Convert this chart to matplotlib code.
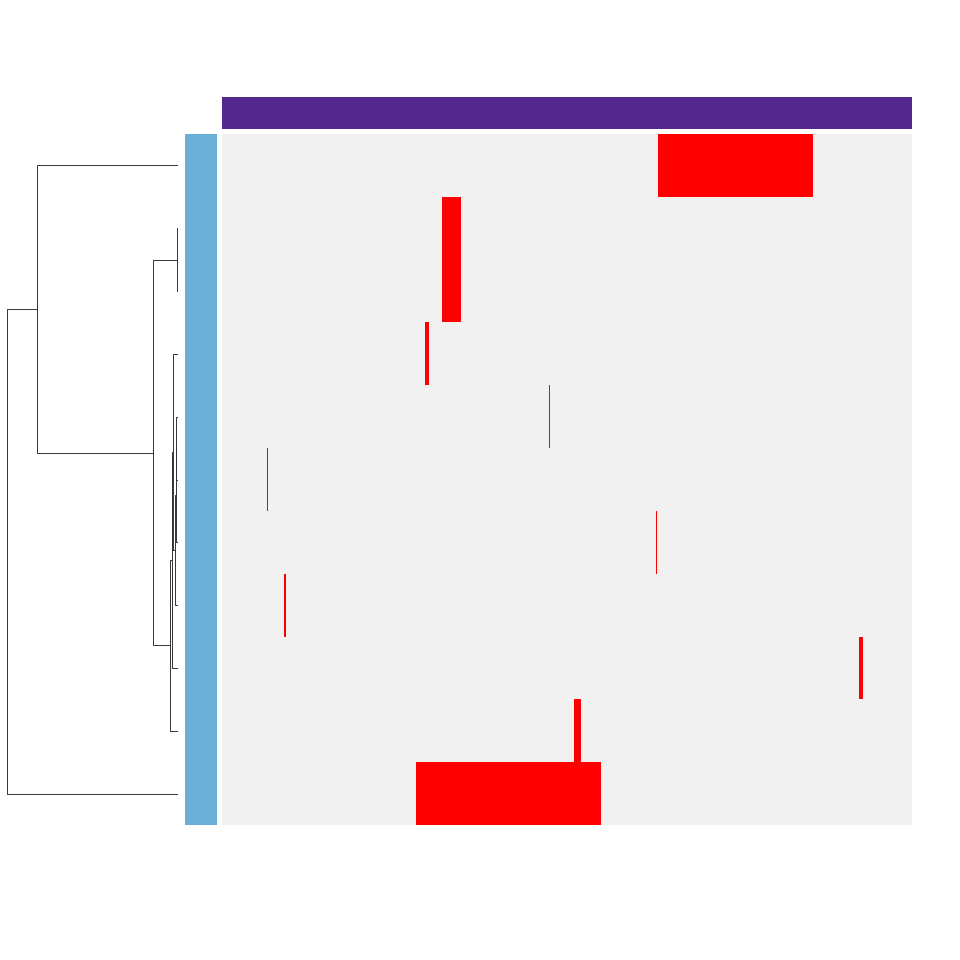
import numpy as np
import matplotlib
matplotlib.use('Agg')
import matplotlib.pyplot as plt
from matplotlib.colors import ListedColormap

# heatmap: 11 rows, 690 columns, one red run per row (start, end column inclusive)
n_cols = 690
run_start = [436, 220, 220, 203, 327, 45, 434, 62, 637, 352, 194]
run_end = [590, 238, 238, 206, 327, 45, 434, 63, 640, 358, 378]

# row dendrogram merges: (left node, right node, height); leaves are 0..10
merges = [
    (1, 2, 0.006),
    (4, 5, 0.012),
    (12, 6, 0.013),
    (13, 7, 0.015),
    (3, 14, 0.027),
    (15, 8, 0.033),
    (16, 9, 0.045),
    (11, 17, 0.146),
    (0, 18, 0.825),
    (19, 10, 1.0),
]

row_color = '#6baed6'
col_color = '#54278f'

W = H = 960.0

def add_ax(fig, x0, y0, x1, y1):
    return fig.add_axes([x0 / W, 1 - y1 / H, (x1 - x0) / W, (y1 - y0) / H])

n_rows = len(run_start)
data = np.zeros((n_rows, n_cols))
for i in range(n_rows):
    data[i, run_start[i]:run_end[i] + 1] = 1

fig = plt.figure(figsize=(9.6, 9.6), dpi=100)

# heatmap
ax = add_ax(fig, 222, 134, 912, 825)
ax.pcolormesh(data, cmap=ListedColormap(['#f1f1f1', '#ff0000']), vmin=0, vmax=1,
              antialiased=False)
ax.set_xlim(0, n_cols)
ax.set_ylim(n_rows, 0)
ax.axis('off')

# column colors
axc = add_ax(fig, 222, 97, 912, 129)
axc.pcolormesh(np.zeros((1, n_cols)), cmap=ListedColormap([col_color]))
axc.axis('off')

# row colors
axr = add_ax(fig, 185, 134, 217, 825)
axr.pcolormesh(np.zeros((n_rows, 1)), cmap=ListedColormap([row_color]))
axr.axis('off')

# row dendrogram
axd = add_ax(fig, 0, 134, 178, 825)
pos = {i: i + 0.5 for i in range(n_rows)}
hgt = {i: 0.0 for i in range(n_rows)}
for k, (a, b, h) in enumerate(merges):
    node = n_rows + k
    ya, yb = pos[a], pos[b]
    axd.plot([hgt[a], h, h, hgt[b]], [ya, ya, yb, yb], color='.2', linewidth=0.7)
    pos[node] = (ya + yb) / 2
    hgt[node] = h
axd.set_xlim(1.04, 0)
axd.set_ylim(n_rows, 0)
axd.axis('off')

fig.savefig('out.png', dpi=100)
